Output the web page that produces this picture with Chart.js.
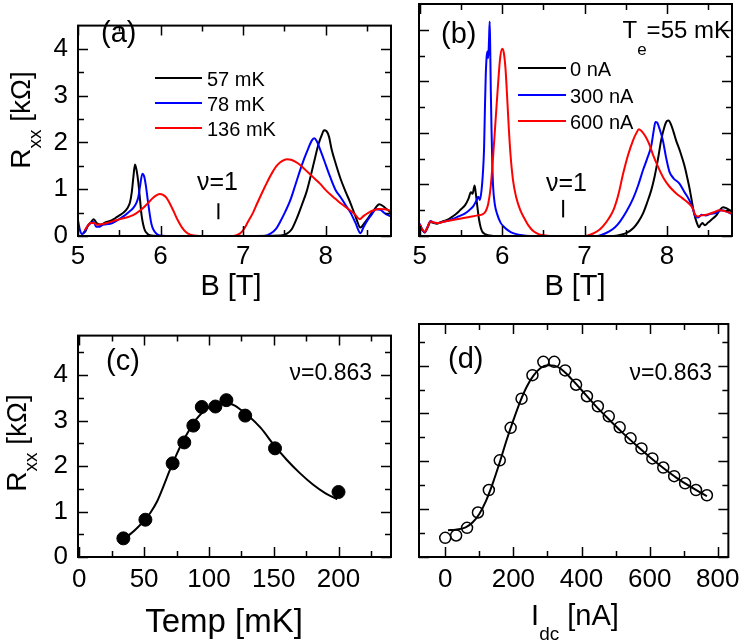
<!DOCTYPE html>
<html>
<head>
<meta charset="utf-8">
<script src="https://cdn.jsdelivr.net/npm/chart.js@4.4.1/dist/chart.umd.min.js"></script>
<style>
  body { margin: 0; background: #fff; width: 747px; height: 642px; position: relative; overflow: hidden; }
  canvas { position: absolute; }
</style>
</head>
<body>
<canvas id="panelA" width="400" height="310" style="left:0;top:0"></canvas>
<canvas id="panelB" width="347" height="310" style="left:400px;top:0"></canvas>
<canvas id="panelC" width="400" height="332" style="left:0;top:310px"></canvas>
<canvas id="panelD" width="347" height="332" style="left:400px;top:310px"></canvas>
<script>
// ---- data ----

// (a) Rxx vs B at different temperatures
const bA57 = [5.06, 5.09, 5.12, 5.16, 5.19, 5.23, 5.27, 5.33, 5.39, 5.45, 5.50, 5.55, 5.60, 5.63, 5.65, 5.67, 5.69, 5.71, 5.73, 5.75, 5.77, 5.79, 5.81, 5.84, 5.87, 5.92, 6.0, 7.0, 7.45, 7.53, 7.59, 7.65, 7.71, 7.77, 7.82, 7.87, 7.91, 7.95, 7.98, 8.01, 8.04, 8.07, 8.12, 8.18, 8.24, 8.30, 8.36, 8.42, 8.47, 8.52, 8.58, 8.65, 8.72, 8.79];
const rA57 = [0.05, 0.10, 0.22, 0.30, 0.36, 0.27, 0.24, 0.29, 0.32, 0.38, 0.44, 0.50, 0.60, 0.72, 0.92, 1.25, 1.53, 1.40, 1.15, 0.80, 0.44, 0.24, 0.12, 0.05, 0.02, 0.005, 0, 0, 0.01, 0.05, 0.15, 0.38, 0.66, 0.96, 1.30, 1.67, 1.95, 2.15, 2.26, 2.24, 2.12, 1.86, 1.55, 1.22, 0.95, 0.70, 0.42, 0.18, 0.28, 0.40, 0.55, 0.68, 0.60, 0.50];
const bA78 = [5.00, 5.02, 5.05, 5.08, 5.12, 5.16, 5.19, 5.22, 5.26, 5.30, 5.39, 5.47, 5.55, 5.62, 5.67, 5.71, 5.73, 5.75, 5.78, 5.80, 5.82, 5.85, 5.89, 5.95, 6.03, 6.1, 7.25, 7.33, 7.40, 7.45, 7.51, 7.57, 7.63, 7.69, 7.74, 7.79, 7.83, 7.86, 7.89, 7.93, 7.98, 8.05, 8.12, 8.18, 8.24, 8.30, 8.36, 8.42, 8.46, 8.51, 8.56, 8.61, 8.66, 8.72, 8.79];
const rA78 = [0.34, 0.15, 0.04, 0.10, 0.22, 0.28, 0.30, 0.20, 0.20, 0.24, 0.26, 0.33, 0.42, 0.52, 0.60, 0.72, 0.83, 1.05, 1.33, 1.28, 1.10, 0.70, 0.25, 0.05, 0.005, 0, 0, 0.05, 0.16, 0.31, 0.52, 0.76, 1.08, 1.41, 1.66, 1.88, 2.04, 2.09, 2.03, 1.86, 1.62, 1.28, 0.98, 0.83, 0.66, 0.50, 0.28, 0.06, 0.20, 0.35, 0.47, 0.57, 0.56, 0.48, 0.42];
const bA136 = [5.08, 5.12, 5.15, 5.19, 5.23, 5.28, 5.35, 5.45, 5.55, 5.63, 5.70, 5.77, 5.84, 5.91, 5.96, 5.99, 6.03, 6.07, 6.11, 6.16, 6.21, 6.26, 6.31, 6.36, 6.44, 6.5, 6.88, 6.96, 7.01, 7.06, 7.12, 7.17, 7.23, 7.29, 7.35, 7.41, 7.47, 7.53, 7.58, 7.63, 7.69, 7.75, 7.81, 7.87, 7.93, 8.0, 8.06, 8.12, 8.18, 8.24, 8.30, 8.35, 8.41, 8.46, 8.52, 8.58, 8.64, 8.71, 8.79];
const rA136 = [0.12, 0.22, 0.28, 0.28, 0.24, 0.25, 0.28, 0.33, 0.38, 0.42, 0.48, 0.57, 0.69, 0.82, 0.88, 0.90, 0.88, 0.82, 0.70, 0.52, 0.33, 0.18, 0.08, 0.03, 0.005, 0, 0, 0.05, 0.15, 0.31, 0.50, 0.70, 0.93, 1.15, 1.35, 1.51, 1.60, 1.64, 1.63, 1.59, 1.52, 1.42, 1.32, 1.22, 1.12, 0.98, 0.88, 0.79, 0.70, 0.62, 0.54, 0.47, 0.36, 0.43, 0.50, 0.55, 0.58, 0.57, 0.54];
const labelsA = ["57 mK", "78 mK", "136 mK"];

// (b) Rxx vs B at different dc currents
const bB0 = [5.00, 5.03, 5.06, 5.09, 5.13, 5.17, 5.21, 5.27, 5.33, 5.39, 5.45, 5.50, 5.55, 5.59, 5.62, 5.64, 5.665, 5.68, 5.70, 5.72, 5.74, 5.76, 5.80, 5.85, 5.95, 7.35, 7.43, 7.51, 7.59, 7.65, 7.71, 7.76, 7.81, 7.85, 7.89, 7.93, 7.97, 8.00, 8.02, 8.05, 8.08, 8.11, 8.16, 8.21, 8.24, 8.27, 8.30, 8.33, 8.36, 8.39, 8.41, 8.43, 8.46, 8.50, 8.55, 8.60, 8.64, 8.68, 8.72, 8.78];
const rB0 = [0.19, 0.12, 0.07, 0.15, 0.27, 0.25, 0.24, 0.28, 0.31, 0.37, 0.44, 0.52, 0.60, 0.72, 0.85, 0.82, 0.98, 0.82, 0.55, 0.31, 0.16, 0.08, 0.03, 0.01, 0, 0, 0.02, 0.06, 0.15, 0.27, 0.44, 0.65, 0.89, 1.15, 1.48, 1.86, 2.12, 2.23, 2.24, 2.16, 2.02, 1.86, 1.64, 1.38, 1.18, 0.96, 0.70, 0.44, 0.27, 0.17, 0.22, 0.25, 0.21, 0.26, 0.33, 0.40, 0.50, 0.56, 0.54, 0.48];
const bB300 = [5.00, 5.03, 5.06, 5.09, 5.13, 5.17, 5.21, 5.27, 5.33, 5.40, 5.47, 5.54, 5.60, 5.65, 5.69, 5.71, 5.73, 5.75, 5.765, 5.78, 5.79, 5.80, 5.81, 5.82, 5.83, 5.84, 5.848, 5.855, 5.862, 5.87, 5.88, 5.89, 5.91, 5.94, 5.98, 6.02, 6.08, 6.14, 6.22, 6.34, 7.15, 7.22, 7.30, 7.37, 7.43, 7.51, 7.59, 7.65, 7.71, 7.76, 7.81, 7.84, 7.86, 7.88, 7.91, 7.95, 7.99, 8.03, 8.08, 8.15, 8.21, 8.27, 8.31, 8.35, 8.38, 8.42, 8.47, 8.53, 8.60, 8.66, 8.72, 8.78];
const rB300 = [0.24, 0.12, 0.07, 0.16, 0.29, 0.26, 0.25, 0.27, 0.29, 0.33, 0.38, 0.43, 0.50, 0.58, 0.70, 0.76, 0.70, 0.90, 1.20, 1.70, 2.45, 3.10, 3.45, 3.58, 3.45, 3.80, 4.16, 3.60, 2.80, 2.10, 1.40, 0.95, 0.62, 0.42, 0.26, 0.18, 0.10, 0.05, 0.02, 0, 0, 0.03, 0.09, 0.17, 0.28, 0.48, 0.73, 0.98, 1.28, 1.50, 1.75, 2.05, 2.21, 2.20, 2.08, 1.86, 1.52, 1.25, 1.12, 1.02, 0.86, 0.70, 0.55, 0.37, 0.36, 0.41, 0.40, 0.43, 0.45, 0.50, 0.48, 0.43];
const bB600 = [5.00, 5.03, 5.06, 5.09, 5.13, 5.17, 5.21, 5.30, 5.40, 5.50, 5.60, 5.70, 5.76, 5.80, 5.83, 5.86, 5.89, 5.92, 5.95, 5.975, 6.00, 6.02, 6.04, 6.06, 6.08, 6.10, 6.13, 6.17, 6.22, 6.27, 6.32, 6.38, 6.45, 6.55, 6.6, 7.0, 7.06, 7.12, 7.18, 7.23, 7.29, 7.35, 7.41, 7.47, 7.53, 7.59, 7.63, 7.66, 7.70, 7.74, 7.78, 7.83, 7.89, 7.96, 8.03, 8.11, 8.19, 8.26, 8.31, 8.34, 8.37, 8.42, 8.50, 8.57, 8.64, 8.71, 8.78];
const rB600 = [0.22, 0.13, 0.08, 0.16, 0.28, 0.26, 0.25, 0.28, 0.31, 0.34, 0.37, 0.40, 0.42, 0.48, 0.62, 0.95, 1.55, 2.25, 2.95, 3.45, 3.63, 3.55, 3.25, 2.70, 2.10, 1.60, 1.10, 0.75, 0.50, 0.34, 0.20, 0.09, 0.03, 0.005, 0, 0, 0.02, 0.06, 0.12, 0.20, 0.33, 0.50, 0.80, 1.22, 1.58, 1.86, 2.00, 2.07, 2.02, 1.93, 1.80, 1.58, 1.35, 1.12, 0.96, 0.83, 0.73, 0.64, 0.55, 0.42, 0.38, 0.40, 0.42, 0.46, 0.50, 0.48, 0.44];
const labelsB = ["0 nA", "300 nA", "600 nA"];

// nu=1 markers
const nuMarkA = [6.70];
const nuMarkB = [6.74];
const nuMarkY = [0.36, 0.70];

// (c) Rxx at nu=0.863 vs temperature
const tempPts = [34, 51, 72, 81, 88, 94.5, 105, 113.5, 128, 151, 200];
const rTempPts = [0.41, 0.82, 2.06, 2.52, 2.89, 3.30, 3.31, 3.45, 3.11, 2.39, 1.43];
const tempFit = [35, 40, 45, 50, 55, 60, 65, 70, 75, 80, 85, 90, 95, 100, 105, 110, 115, 120, 125, 130, 140, 150, 160, 170, 180, 190, 199];
const rTempFit = [0.42, 0.52, 0.65, 0.80, 0.98, 1.22, 1.56, 1.92, 2.25, 2.55, 2.80, 3.02, 3.18, 3.29, 3.36, 3.39, 3.38, 3.33, 3.23, 3.12, 2.84, 2.47, 2.14, 1.85, 1.60, 1.40, 1.27];

// (d) Rxx at nu=0.863 vs dc current
const idcPts = [0, 32, 64, 96, 128, 160, 192, 224, 256, 288, 320, 352, 384, 416, 448, 480, 512, 544, 576, 608, 640, 672, 704, 736, 768];
const rIdcPts = [0.40, 0.45, 0.61, 0.93, 1.40, 2.02, 2.70, 3.31, 3.80, 4.08, 4.08, 3.90, 3.60, 3.36, 3.15, 2.94, 2.71, 2.48, 2.27, 2.06, 1.87, 1.69, 1.54, 1.40, 1.29];
const idcFit = [8, 30, 60, 80, 100, 120, 140, 160, 180, 200, 220, 240, 260, 280, 300, 320, 340, 360, 380, 400, 440, 480, 520, 560, 600, 640, 680, 720, 768];
const rIdcFit = [0.56, 0.57, 0.62, 0.72, 0.90, 1.18, 1.55, 1.98, 2.44, 2.86, 3.25, 3.57, 3.80, 3.95, 4.01, 4.00, 3.93, 3.80, 3.65, 3.49, 3.17, 2.88, 2.60, 2.34, 2.09, 1.86, 1.65, 1.47, 1.27];

// ticks
const xTicksB = [5, 6, 7, 8];
const xMinorB = [5.5, 6.5, 7.5, 8.5];
const yTicksR = [0, 1, 2, 3, 4];
const yMinorAB = [0.5, 1.5, 2.5, 3.5];
const yMinorCD = [0.5, 1.5, 2.5, 3.5, 4.5];
const xTicksT = [0, 50, 100, 150, 200];
const xMinorT = [25, 75, 125, 175, 225];
const xTicksI = [0, 200, 400, 600, 800];
const xMinorI = [100, 300, 500, 700];

const colors = ["#000000", "#0000ff", "#ff0000"];
const FONT = '"Liberation Sans", Arial, Helvetica, sans-serif';

function xy(xs, ys) {
  return xs.map((x, i) => ({ x: x, y: ys[i] }));
}

function curve(xs, ys, color, order) {
  return {
    data: xy(xs, ys),
    showLine: true,
    pointRadius: 0,
    borderColor: color,
    borderWidth: 2,
    cubicInterpolationMode: "monotone",
    order: order,
  };
}

// text with subscripts, parts = [[text, isSub], ...]
function drawRich(ctx, t) {
  const size = t.size;
  const subSize = t.subSize || Math.round(size * 0.65);
  let total = 0;
  const widths = t.parts.map((p) => {
    ctx.font = `${p[1] ? subSize : size}px ${FONT}`;
    const w = ctx.measureText(p[0]).width;
    total += w;
    return w;
  });
  let cx = t.align === "center" ? -total / 2 : t.align === "right" ? -total : 0;
  ctx.save();
  ctx.translate(t.x, t.y);
  if (t.rotate) ctx.rotate(-Math.PI / 2);
  ctx.fillStyle = "#000";
  ctx.textAlign = "left";
  ctx.textBaseline = "alphabetic";
  t.parts.forEach((p, i) => {
    ctx.font = `${p[1] ? subSize : size}px ${FONT}`;
    ctx.fillText(p[0], cx, p[1] ? t.shift || 0 : 0);
    cx += widths[i];
  });
  ctx.restore();
}

// frame, inward ticks on four sides, legend and labels
const panelDeco = {
  id: "panelDeco",
  afterDraw(chart, args, opts) {
    const ctx = chart.ctx;
    const a = chart.chartArea;
    const xs = chart.scales.x;
    const ys = chart.scales.y;
    ctx.save();
    ctx.strokeStyle = "#000";
    ctx.lineWidth = 1.5;
    ctx.beginPath();
    const xTick = (v, len) => {
      const p = Math.round(xs.getPixelForValue(v)) + 0.5;
      ctx.moveTo(p, a.bottom);
      ctx.lineTo(p, a.bottom - len);
      ctx.moveTo(p, a.top);
      ctx.lineTo(p, a.top + len);
    };
    const yTick = (v, len) => {
      const p = Math.round(ys.getPixelForValue(v)) + 0.5;
      ctx.moveTo(a.left, p);
      ctx.lineTo(a.left + len, p);
      ctx.moveTo(a.right, p);
      ctx.lineTo(a.right - len, p);
    };
    opts.xMajor.forEach((v) => xTick(v, 10));
    opts.xMinor.forEach((v) => xTick(v, 6));
    opts.yMajor.forEach((v) => yTick(v, 10));
    opts.yMinor.forEach((v) => yTick(v, 6));
    ctx.stroke();
    ctx.lineWidth = 2;
    ctx.strokeRect(a.left, a.top, a.right - a.left, a.bottom - a.top);

    if (opts.legend) {
      const lg = opts.legend;
      lg.labels.forEach((label, i) => {
        ctx.strokeStyle = colors[i];
        ctx.lineWidth = 2;
        ctx.beginPath();
        ctx.moveTo(lg.x1, lg.y[i]);
        ctx.lineTo(lg.x2, lg.y[i]);
        ctx.stroke();
        ctx.fillStyle = "#000";
        ctx.font = `${lg.size}px ${FONT}`;
        ctx.textAlign = "left";
        ctx.textBaseline = "middle";
        ctx.fillText(label, lg.tx, lg.y[i] + 2);
      });
    }
    (opts.texts || []).forEach((t) => drawRich(ctx, t));
    ctx.restore();
  },
};

function makePanel(id, cfg) {
  return new Chart(document.getElementById(id), {
    type: "scatter",
    data: { datasets: cfg.datasets },
    options: {
      responsive: false,
      animation: false,
      devicePixelRatio: 1,
      layout: { autoPadding: false, padding: cfg.padding },
      plugins: {
        legend: { display: false },
        tooltip: { enabled: false },
        panelDeco: cfg.deco,
      },
      scales: {
        x: {
          type: "linear",
          min: cfg.xMin,
          max: cfg.xMax,
          afterFit: (s) => { s.height = cfg.xAxisH; },
          afterBuildTicks: (s) => { s.ticks = cfg.xTicks.map((v) => ({ value: v })); },
          grid: { display: false, drawTicks: false },
          border: { display: false },
          ticks: {
            padding: cfg.xPad,
            color: "#000",
            maxRotation: 0,
            autoSkip: false,
            font: { family: FONT, size: 26 },
            callback: (v) => String(v),
          },
        },
        y: {
          type: "linear",
          min: 0,
          max: cfg.yMax,
          afterFit: (s) => { s.width = cfg.yAxisW; },
          afterBuildTicks: (s) => { s.ticks = yTicksR.map((v) => ({ value: v })); },
          grid: { display: false, drawTicks: false },
          border: { display: false },
          ticks: {
            display: cfg.yLabels,
            padding: 10,
            color: "#000",
            font: { family: FONT, size: 26 },
            callback: (v) => String(v),
          },
        },
      },
    },
    plugins: [panelDeco],
  });
}

const nuLine = (bx) => ({
  data: xy([bx, bx], nuMarkY),
  showLine: true,
  pointRadius: 0,
  borderColor: "#000",
  borderWidth: 2,
  order: 0,
});

// (a)
makePanel("panelA", {
  datasets: [curve(bA57, rA57, colors[0], 3), curve(bA78, rA78, colors[1], 2), curve(bA136, rA136, colors[2], 1), nuLine(nuMarkA[0])],
  padding: { top: 4, right: 9, bottom: 0, left: 0 },
  xMin: 5, xMax: 8.79, yMax: 4.5, xTicks: xTicksB, xAxisH: 74, yAxisW: 78, xPad: 5, yLabels: true,
  deco: {
    xMajor: xTicksB, xMinor: xMinorB, yMajor: yTicksR, yMinor: yMinorAB,
    legend: { labels: labelsA, x1: 155, x2: 202, tx: 207, y: [78, 103, 128], size: 20 },
    texts: [
      { parts: [["(a)"]], x: 101, y: 42, size: 29 },
      { parts: [["ν=1"]], x: 217.5, y: 190, size: 25, align: "center" },
      { parts: [["B [T]"]], x: 231, y: 295, size: 29, align: "center" },
      { parts: [["R"], ["xx", 1], [" [kΩ]"]], x: 30, y: 120, size: 28, subSize: 19, shift: 11, align: "center", rotate: true },
    ],
  },
});

// (b)
makePanel("panelB", {
  datasets: [curve(bB0, rB0, colors[0], 3), curve(bB300, rB300, colors[1], 2), curve(bB600, rB600, colors[2], 1), nuLine(nuMarkB[0])],
  padding: { top: 4, right: 15, bottom: 0, left: 0 },
  xMin: 4.99, xMax: 8.79, yMax: 4.5, xTicks: xTicksB, xAxisH: 74, yAxisW: 19, xPad: 5, yLabels: false,
  deco: {
    xMajor: xTicksB, xMinor: xMinorB, yMajor: yTicksR, yMinor: yMinorAB,
    legend: { labels: labelsB, x1: 118, x2: 166, tx: 170, y: [68, 95, 121], size: 20 },
    texts: [
      { parts: [["(b)"]], x: 41, y: 43, size: 29 },
      { parts: [["T"], ["e", 1], ["=55 mK"]], x: 330, y: 38, size: 24, subSize: 17, shift: 17, align: "right" },
      { parts: [["ν=1"]], x: 166.5, y: 191, size: 25, align: "center" },
      { parts: [["B [T]"]], x: 175, y: 295, size: 29, align: "center" },
    ],
  },
});

// (c)
makePanel("panelC", {
  datasets: [
    { data: xy(tempPts, rTempPts), pointRadius: 6.5, pointBackgroundColor: "#000", pointBorderColor: "#000", pointBorderWidth: 1, showLine: false, order: 0 },
    { data: xy(tempFit, rTempFit), showLine: true, pointRadius: 0, borderColor: "#000", borderWidth: 2, cubicInterpolationMode: "monotone", order: 1 },
  ],
  padding: { top: 14, right: 9, bottom: 0, left: 0 },
  xMin: -1, xMax: 240.5, yMax: 4.87, xTicks: xTicksT, xAxisH: 85, yAxisW: 78, xPad: 7, yLabels: true,
  deco: {
    xMajor: xTicksT, xMinor: xMinorT, yMajor: yTicksR, yMinor: yMinorCD,
    texts: [
      { parts: [["(c)"]], x: 106, y: 60, size: 29 },
      { parts: [["ν=0.863"]], x: 372, y: 70, size: 23, align: "right" },
      { parts: [["Temp [mK]"]], x: 224, y: 322, size: 33, align: "center" },
      { parts: [["R"], ["xx", 1], [" [kΩ]"]], x: 26, y: 133, size: 28, subSize: 19, shift: 11, align: "center", rotate: true },
    ],
  },
});

// (d)
makePanel("panelD", {
  datasets: [
    { data: xy(idcPts, rIdcPts), pointRadius: 5.5, pointBackgroundColor: "rgba(0,0,0,0)", pointBorderColor: "#000", pointBorderWidth: 1.5, showLine: false, order: 0 },
    { data: xy(idcFit, rIdcFit), showLine: true, pointRadius: 0, borderColor: "#000", borderWidth: 2, cubicInterpolationMode: "monotone", order: 1 },
  ],
  padding: { top: 14, right: 15, bottom: 0, left: 0 },
  xMin: -77, xMax: 831, yMax: 4.87, xTicks: xTicksI, xAxisH: 85, yAxisW: 19, xPad: 7, yLabels: false,
  deco: {
    xMajor: xTicksI, xMinor: xMinorI, yMajor: yTicksR, yMinor: yMinorCD,
    texts: [
      { parts: [["(d)"]], x: 48, y: 58, size: 29 },
      { parts: [["ν=0.863"]], x: 312, y: 70, size: 23, align: "right" },
      { parts: [["I"], ["dc", 1], [" [nA]"]], x: 175, y: 315, size: 29, subSize: 19, shift: 15, align: "center" },
    ],
  },
});
</script>
</body>
</html>
